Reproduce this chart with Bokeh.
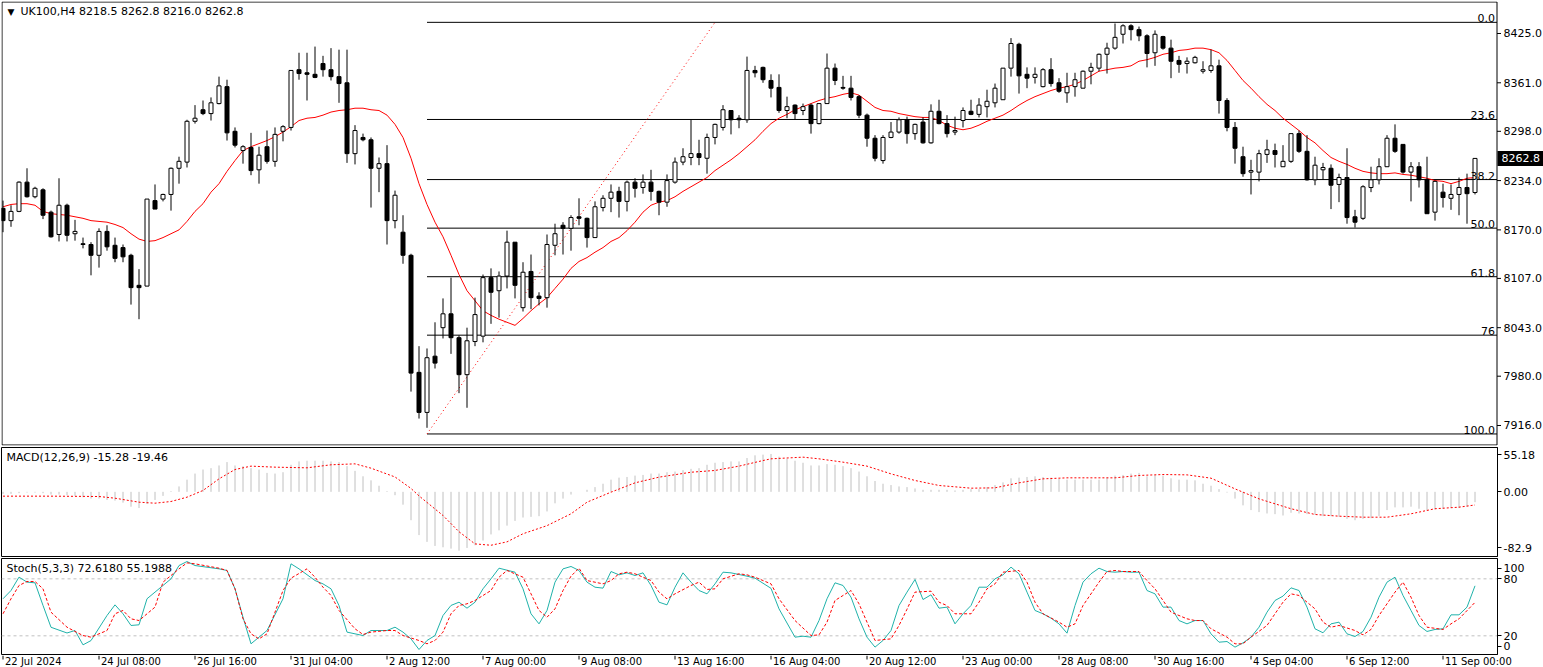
from bokeh.plotting import figure
from bokeh.layouts import column
from bokeh.models import Range1d, FixedTicker, Label
from bokeh.embed import file_html
from bokeh.resources import INLINE
from bokeh.core.properties import value

FONT = "DejaVu Sans"
FS = "11px"

# ---------------- data ----------------
opens = [
    8198, 8182, 8194, 8232, 8213, 8222, 8193, 8164, 8202, 8165,
    8152, 8151, 8137, 8168, 8150, 8147, 8137, 8098, 8097, 8208,
    8210, 8216, 8250, 8258, 8311, 8326, 8321, 8334, 8356, 8298,
    8273, 8277, 8248, 8278, 8259, 8298, 8303, 8378, 8374, 8372,
    8386, 8378, 8369, 8361, 8269, 8290, 8287, 8250, 8256, 8182,
    8167, 8137, 7985, 7933, 8006, 8043, 8061, 8030, 7982, 8025,
    8032, 8108, 8091, 8110, 8154, 8069, 8116, 8084, 8082, 8150,
    8176, 8172, 8187, 8185, 8160, 8199, 8211, 8220, 8207, 8232,
    8225, 8232, 8220, 8206, 8232, 8258, 8264, 8269, 8263, 8290,
    8303, 8325, 8315, 8313, 8377, 8381, 8364, 8355, 8325, 8332,
    8325, 8332, 8308, 8334, 8380, 8355, 8354, 8343, 8319, 8289,
    8260, 8290, 8297, 8313, 8295, 8310, 8283, 8324, 8308, 8297,
    8312, 8324, 8320, 8330, 8335, 8339, 8380, 8411, 8372, 8368,
    8356, 8378, 8361, 8348, 8356, 8354, 8376, 8380, 8398, 8406,
    8424, 8435, 8430, 8422, 8400, 8421, 8406, 8390, 8386, 8387,
    8376, 8377, 8383, 8338, 8303, 8265, 8245, 8245, 8268, 8273,
    8252, 8259, 8295, 8272, 8235, 8248, 8250, 8229, 8238, 8187,
    8185, 8225, 8235, 8252, 8289, 8281, 8245, 8252, 8235, 8193,
    8219, 8211, 8216, 8225, 8218.5]
highs = [
    8208, 8202, 8233, 8250, 8226, 8224, 8195, 8237, 8204, 8183,
    8160, 8154, 8172, 8176, 8160, 8151, 8139, 8119, 8210, 8229,
    8217, 8251, 8265, 8313, 8332, 8338, 8342, 8369, 8365, 8303,
    8280, 8296, 8278, 8299, 8303, 8306, 8377, 8400, 8400, 8408,
    8396, 8406, 8404, 8404, 8306, 8295, 8290, 8264, 8280, 8221,
    8189, 8139, 8019, 8016, 8050, 8081, 8108, 8033, 8043, 8082,
    8112, 8120, 8116, 8169, 8154, 8128, 8138, 8089, 8164, 8178,
    8180, 8189, 8211, 8186, 8207, 8215, 8229, 8226, 8234, 8237,
    8242, 8248, 8221, 8242, 8264, 8276, 8313, 8287, 8295, 8308,
    8332, 8325, 8319, 8395, 8383, 8382, 8372, 8372, 8343, 8333,
    8334, 8334, 8334, 8399, 8386, 8370, 8370, 8345, 8321, 8293,
    8293, 8310, 8316, 8317, 8308, 8316, 8333, 8339, 8319, 8317,
    8329, 8339, 8341, 8352, 8360, 8380, 8419, 8413, 8381, 8381,
    8380, 8393, 8367, 8374, 8374, 8377, 8387, 8399, 8413, 8438,
    8437, 8437, 8434, 8424, 8429, 8422, 8417, 8396, 8394, 8396,
    8389, 8404, 8391, 8341, 8310, 8278, 8261, 8274, 8287, 8282,
    8280, 8295, 8299, 8293, 8265, 8257, 8255, 8243, 8276, 8196,
    8228, 8252, 8263, 8293, 8307, 8281, 8258, 8258, 8265, 8234,
    8230, 8229, 8238, 8243, 8262.8]
lows = [
    8167, 8174, 8193, 8212, 8211, 8184, 8160, 8155, 8155, 8156,
    8146, 8111, 8121, 8143, 8128, 8128, 8073, 8054, 8097, 8197,
    8207, 8195, 8230, 8251, 8308, 8319, 8312, 8333, 8286, 8277,
    8256, 8241, 8230, 8256, 8252, 8285, 8299, 8365, 8338, 8367,
    8369, 8364, 8335, 8257, 8255, 8285, 8199, 8219, 8151, 8172,
    8126, 7960, 7925, 7913, 7990, 8029, 8009, 7958, 7939, 8019,
    8024, 8048, 8056, 8094, 8081, 8064, 8067, 8072, 8069, 8137,
    8138, 8143, 8176, 8147, 8160, 8194, 8193, 8186, 8194, 8212,
    8217, 8208, 8189, 8200, 8230, 8254, 8254, 8254, 8243, 8281,
    8299, 8294, 8302, 8309, 8368, 8361, 8342, 8322, 8315, 8313,
    8319, 8295, 8307, 8334, 8358, 8352, 8338, 8315, 8278, 8259,
    8256, 8289, 8295, 8282, 8287, 8282, 8282, 8307, 8290, 8293,
    8303, 8319, 8316, 8316, 8329, 8339, 8369, 8347, 8354, 8360,
    8355, 8356, 8348, 8335, 8343, 8354, 8359, 8376, 8373, 8404,
    8412, 8416, 8415, 8381, 8383, 8404, 8367, 8374, 8373, 8386,
    8373, 8374, 8321, 8298, 8256, 8239, 8216, 8233, 8257, 8251,
    8252, 8257, 8270, 8234, 8228, 8235, 8197, 8206, 8178, 8173,
    8183, 8219, 8229, 8252, 8270, 8243, 8207, 8225, 8191, 8182,
    8199, 8196, 8189, 8178, 8216.0]
closes = [
    8182, 8194, 8232, 8213, 8224, 8189, 8161, 8202, 8163, 8168,
    8151, 8137, 8168, 8148, 8133, 8135, 8095, 8095, 8210, 8197,
    8216, 8250, 8259, 8311, 8315, 8321, 8335, 8357, 8296, 8280,
    8278, 8247, 8267, 8259, 8294, 8304, 8377, 8373, 8372, 8368,
    8378, 8369, 8360, 8269, 8299, 8287, 8250, 8256, 8182, 8215,
    8137, 7984, 7933, 8004, 7997, 8061, 8030, 7982, 8026, 8060,
    8108, 8089, 8110, 8154, 8098, 8115, 8082, 8081, 8151, 8165,
    8172, 8186, 8185, 8160, 8200, 8211, 8219, 8207, 8232, 8224,
    8232, 8220, 8206, 8234, 8258, 8265, 8269, 8264, 8290, 8307,
    8326, 8313, 8313, 8377, 8374, 8365, 8354, 8325, 8330, 8321,
    8330, 8308, 8334, 8380, 8364, 8354, 8342, 8319, 8289, 8263,
    8290, 8297, 8313, 8295, 8307, 8283, 8324, 8308, 8295, 8299,
    8325, 8320, 8332, 8337, 8354, 8380, 8412, 8370, 8367, 8372,
    8378, 8360, 8350, 8356, 8365, 8376, 8381, 8398, 8406, 8420,
    8435, 8430, 8422, 8399, 8424, 8406, 8389, 8385, 8389, 8394,
    8378, 8383, 8338, 8303, 8276, 8243, 8247, 8269, 8274, 8268,
    8259, 8295, 8272, 8235, 8254, 8251, 8228, 8238, 8186, 8180,
    8226, 8235, 8252, 8289, 8272, 8245, 8252, 8235, 8191, 8233,
    8212, 8216, 8225, 8217, 8262.8]
ma_values = [
    8200, 8203, 8204, 8204, 8202, 8194, 8191, 8190, 8189, 8187,
    8185, 8182, 8181, 8180, 8177, 8173, 8165, 8158, 8155, 8156,
    8160, 8165, 8170, 8181, 8194, 8204, 8219, 8230, 8246, 8260,
    8273, 8278, 8282, 8286, 8291, 8297, 8304, 8312, 8315, 8316,
    8319, 8323, 8325, 8326, 8328, 8328, 8326, 8325, 8319, 8307,
    8290, 8263, 8230, 8203, 8180, 8161, 8137, 8112, 8091, 8078,
    8065, 8059, 8054, 8050, 8046, 8055, 8065, 8074, 8082, 8094,
    8106, 8120, 8129, 8134, 8141, 8147, 8155, 8160, 8169, 8180,
    8193, 8202, 8206, 8208, 8213, 8220, 8226, 8232, 8238, 8247,
    8254, 8261, 8269, 8278, 8287, 8298, 8308, 8315, 8320, 8326,
    8330, 8334, 8338, 8341, 8343, 8346, 8348, 8345, 8337, 8329,
    8325, 8324, 8321, 8319, 8317, 8316, 8316, 8312, 8306, 8302,
    8300, 8302, 8306, 8311, 8315, 8319, 8325, 8332, 8338, 8343,
    8347, 8351, 8354, 8356, 8359, 8364, 8370, 8376, 8378, 8380,
    8381, 8383, 8389, 8391, 8394, 8398, 8400, 8403, 8404, 8406,
    8406, 8404, 8400, 8390, 8377, 8364, 8354, 8343, 8333, 8325,
    8315, 8307, 8299, 8290, 8283, 8273, 8264, 8259, 8255, 8250,
    8246, 8244, 8243, 8243, 8244, 8242, 8241, 8239, 8237, 8234,
    8233, 8230, 8233, 8237, 8238]
macd_main = [
    -3, -3, -2, -1, -1, -2, -4, -4, -5, -6,
    -8, -10, -10, -12, -13, -16, -22, -24, -18, -12,
    -6, 1, 8, 18, 27, 33, 35, 39, 44, 39,
    38, 35, 33, 28, 27, 29, 40, 45, 46, 46,
    46, 45, 44, 38, 31, 23, 17, 9, 1, -5,
    -19, -42, -64, -74, -80, -82, -84, -87, -83, -79,
    -72, -63, -57, -50, -43, -38, -37, -36, -29, -17,
    -10, -4, 0, 3, 7, 12, 18, 21, 22, 24,
    25, 27, 27, 29, 30, 32, 34, 35, 40, 43,
    44, 45, 45, 50, 54, 55, 56, 52, 49, 46,
    43, 39, 39, 41, 40, 38, 35, 30, 23, 16,
    12, 10, 8, 7, 5, 3, 3, 3, 3, 2,
    3, 4, 4, 7, 10, 14, 20, 21, 22, 23,
    22, 21, 19, 18, 18, 18, 18, 18, 21, 24,
    25, 27, 28, 23, 25, 24, 20, 18, 18, 17,
    12, 9, 4, -1, -10, -20, -27, -30, -32, -33,
    -35, -31, -32, -33, -34, -36, -36, -37, -40, -42,
    -40, -39, -36, -27, -23, -23, -22, -25, -28, -26,
    -25, -24, -24, -22, -15.28]
signal_bars = [0, 6, 12, 14, 17, 19, 21, 23, 25, 27, 29, 31, 34, 38, 41, 44, 46, 49, 51, 52,
               55, 57, 59, 61, 63, 65, 68, 71, 73, 76, 79, 82, 86, 89, 92, 95, 96, 100, 102,
               105, 108, 111, 114, 117, 121, 124, 127, 130, 133, 136, 139, 142, 145, 148, 151,
               154, 157, 161, 164, 167, 170, 173, 176, 179, 182, 184]
signal_vals = [-6.4, -6.4, -6.9, -9.4, -15.3, -16.8, -14.3, -7.9, 2.0, 19.2, 33.0, 38.0, 36.5,
               35.5, 40.0, 41.4, 35.0, 22.0, 5.0, -6.0, -35.0, -59.0, -77.0, -79.0, -74.0, -62.0,
               -50.0, -32.5, -15.3, -0.5, 13.3, 21.7, 29.0, 31.6, 38.0, 46.3, 48.8, 51.3, 48.8,
               43.9, 38.0, 26.6, 16.8, 9.4, 5.4, 5.9, 13.3, 19.2, 20.7, 20.7, 20.7, 24.2, 25.6,
               25.1, 20.2, 4.4, -10.4, -25.0, -33.5, -36.0, -37.5, -37.5, -32.5, -25.0, -22.7,
               -19.46]
k_bars = [0, 1, 2, 3, 4, 5, 6, 8, 9, 10, 11, 13, 14, 15, 16, 17, 18, 20, 21, 22, 23, 24, 27, 28,
          29, 30, 31, 32, 33, 35, 36, 37, 39, 40, 41, 42, 43, 45, 46, 48, 49, 50, 51, 52, 53, 54,
          55, 56, 57, 58, 59, 60, 61, 62, 64, 65, 66, 67, 68, 69, 70, 71, 72, 73, 74, 75, 76, 77,
          78, 79, 80, 81, 82, 83, 84, 85, 86, 87, 88, 89, 90, 91, 93, 94, 96, 97, 99, 100, 101,
          102, 103, 104, 105, 106, 107, 108, 109, 110, 111, 112, 113, 114, 115, 116, 117, 118,
          119, 120, 121, 122, 123, 124, 125, 126, 127, 128, 129, 130, 131, 132, 133, 134, 135,
          136, 137, 138, 139, 140, 141, 142, 143, 144, 145, 146, 147, 148, 149, 150, 151, 152,
          153, 154, 155, 156, 157, 158, 159, 160, 161, 162, 163, 164, 165, 166, 167, 168, 169,
          170, 171, 172, 173, 174, 175, 176, 177, 178, 179, 180, 181, 182, 183, 184]
k_vals = [59.0, 67.7, 81.8, 76.5, 75.8, 52.0, 29.0, 23.0, 25.6, 10.5, 15.0, 41.4, 52.6, 43.2,
          30.9, 31.6, 59.0, 73.0, 80.0, 94.0, 98.2, 94.0, 90.5, 88.8, 69.5, 39.6, 11.6, 18.6,
          25.6, 59.0, 95.8, 90.5, 78.2, 74.7, 69.5, 51.9, 23.9, 20.3, 25.6, 25.6, 29.1, 23.9,
          16.8, 5.6, 15.1, 20.3, 41.4, 52.0, 55.4, 49.1, 55.4, 69.5, 80.0, 91.2, 87.0, 69.5,
          43.2, 32.6, 46.7, 76.5, 90.5, 93.0, 88.8, 76.5, 71.2, 70.2, 87.7, 84.2, 86.3, 83.5,
          86.3, 73.0, 55.4, 52.6, 71.2, 86.3, 76.5, 67.7, 64.2, 74.7, 87.0, 86.3, 82.8, 80.7,
          70.0, 48.4, 18.6, 19.6, 18.6, 36.1, 59.0, 75.8, 73.0, 60.7, 37.9, 18.6, 8.1, 15.1,
          25.6, 51.9, 66.0, 79.3, 58.2, 63.2, 49.1, 50.2, 32.6, 43.2, 51.9, 71.2, 71.2, 80.0,
          84.2, 92.3, 85.3, 66.0, 46.7, 43.2, 38.6, 32.6, 22.8, 51.9, 76.5, 85.3, 91.2, 87.7,
          87.0, 87.7, 87.0, 87.0, 67.7, 64.2, 50.2, 50.2, 36.1, 32.6, 36.1, 36.1, 22.1, 13.3,
          14.0, 8.1, 12.6, 18.6, 29.1, 44.9, 57.2, 61.8, 70.5, 67.7, 50.2, 27.4, 23.2, 32.6,
          34.4, 22.1, 19.3, 24.6, 39.6, 60.7, 76.5, 81.7, 62.5, 46.7, 30.9, 24.6, 26.7, 27.4,
          42.1, 42.1, 50.2, 72.618]
d_bars = [0, 1, 2, 3, 4, 5, 6, 8, 9, 10, 11, 13, 14, 15, 16, 17, 19, 20, 22, 23, 24, 27, 28, 29,
          30, 31, 32, 33, 34, 35, 36, 38, 39, 40, 41, 42, 44, 45, 46, 48, 49, 50, 52, 53, 54, 55,
          56, 57, 58, 59, 61, 62, 63, 65, 66, 67, 68, 69, 70, 71, 72, 73, 75, 76, 77, 78, 79, 81,
          82, 83, 84, 86, 87, 88, 89, 90, 92, 93, 94, 95, 96, 97, 99, 101, 102, 103, 104, 106,
          107, 108, 109, 111, 112, 113, 114, 116, 117, 118, 119, 121, 122, 123, 124, 125, 127,
          128, 129, 130, 132, 133, 134, 135, 137, 138, 139, 140, 142, 143, 144, 145, 146, 148,
          149, 150, 151, 153, 154, 155, 156, 158, 159, 160, 161, 162, 164, 165, 166, 167, 169,
          170, 171, 172, 174, 175, 176, 177, 178, 180, 181, 182, 184]
d_vals = [43.2, 59.0, 73.0, 77.2, 77.2, 69.5, 44.9, 29.1, 24.6, 20.3, 18.6, 25.6, 43.2, 46.7,
          37.9, 36.1, 50.2, 76.5, 90.5, 96.8, 95.8, 91.2, 88.8, 69.5, 37.9, 22.1, 16.8, 22.1,
          44.9, 67.7, 80.7, 90.5, 81.7, 71.2, 62.5, 46.7, 27.4, 21.4, 23.9, 25.6, 25.6, 20.3,
          15.1, 11.6, 15.1, 23.9, 43.2, 52.0, 53.7, 57.2, 67.7, 81.7, 88.8, 81.7, 64.2, 46.7,
          39.6, 48.4, 67.7, 82.8, 91.2, 78.2, 74.7, 78.2, 85.3, 87.0, 85.3, 78.2, 66.0, 58.9,
          64.2, 73.0, 76.5, 68.8, 69.5, 80.0, 85.3, 84.2, 81.7, 78.2, 74.7, 59.0, 36.1, 20.3,
          21.0, 34.4, 57.2, 67.7, 53.7, 34.4, 15.1, 16.8, 30.9, 48.0, 66.0, 67.0, 55.4, 51.9,
          43.2, 43.2, 55.4, 69.5, 74.7, 87.0, 88.8, 76.5, 55.4, 43.2, 34.4, 29.1, 32.6, 51.9,
          76.5, 87.7, 88.8, 87.7, 87.7, 78.2, 69.5, 57.2, 44.9, 37.9, 36.1, 36.1, 27.4, 18.6,
          11.6, 11.6, 18.6, 30.9, 43.2, 55.4, 64.2, 62.5, 48.4, 34.4, 29.1, 30.9, 25.6, 21.0,
          26.7, 41.4, 66.0, 76.5, 60.7, 41.4, 29.1, 26.7, 32.6, 37.9, 55.1988]
date_bars = [0, 12, 24, 36, 48, 60, 72, 84, 96, 108, 120, 132, 144, 156, 168, 180]
date_labels = ["22 Jul 2024", "24 Jul 08:00", "26 Jul 16:00", "31 Jul 04:00", "2 Aug 12:00",
               "7 Aug 00:00", "9 Aug 08:00", "13 Aug 16:00", "16 Aug 04:00", "20 Aug 12:00",
               "23 Aug 00:00", "28 Aug 08:00", "30 Aug 16:00", "4 Sep 04:00", "6 Sep 12:00",
               "11 Sep 00:00"]
price_ticks = [8425.0, 8361.0, 8298.0, 8234.0, 8170.0, 8107.0, 8043.0, 7980.0, 7916.0]
fib_high = 8439.5
fib_low = 7905.0
fib_start_bar = 53
fib_trend_end_bar = 89
fib_levels = [0.0, 23.6, 38.2, 50.0, 61.8, 76.0, 100.0]
fib_texts = ["0.0", "23.6", "38.2", "50.0", "61.8", "76", "100.0"]
last_price = 8262.8
macd_ticks = [55.18, 0.0, -82.9]
macd_tick_text = ["55.18", "0.00", "-82.9"]
stoch_levels = [80, 20]
stoch_ticks = [91.2, 80.0, 20.0, 9.1]
stoch_tick_text = ["100", "80", "20", "0"]

# ---------------- layout constants ----------------
n = len(closes)
bars = list(range(n))
PX = 8.0                 # pixels per bar
FRAME_W = 1496           # plotting area width of every panel
SCALE_W = 46             # width of the price scale column
X0 = -1.5 / PX           # bar 0 centred on a half pixel
xr = Range1d(X0, X0 + FRAME_W / PX)
X_EDGE = X0 + FRAME_W / PX


def style_axis(f):
    f.xgrid.visible = False
    f.ygrid.visible = False
    ax = f.yaxis[0]
    ax.axis_line_color = "black"
    ax.major_tick_out = 4
    ax.major_tick_in = 0
    ax.minor_tick_out = 0
    ax.minor_tick_in = 0
    ax.major_label_text_font = FONT
    ax.major_label_text_font_size = FS
    ax.major_label_text_color = "black"
    ax.major_label_standoff = 2


# ---------------- main price panel (price scale drawn inside the canvas) ----------------
PPU = 1.2985             # price per pixel
MAIN_H = 444
P_TOP = 8466.55
P_BOT = P_TOP - MAIN_H * PPU
main_xr = Range1d(X0, X0 + (FRAME_W + SCALE_W) / PX)
p = figure(frame_width=FRAME_W + SCALE_W, frame_height=MAIN_H, x_range=main_xr,
           y_range=Range1d(P_BOT, P_TOP), output_backend="svg", toolbar_location=None,
           min_border_left=1, min_border_right=0, min_border_top=1, min_border_bottom=1,
           x_axis_location=None, y_axis_location=None, outline_line_color=None,
           background_fill_color="white", border_fill_color="white")
p.xgrid.visible = False
p.ygrid.visible = False

# panel frame
xl = X0 + 0.5 / PX
xrt = X0 + (FRAME_W - 0.5) / PX
yt = P_TOP - 0.5 * PPU
yb = P_TOP - (MAIN_H - 0.5) * PPU
p.line(x=[xl, xrt, xrt, xl, xl], y=[yt, yt, yb, yb, yt], line_color="black", line_width=1)

# price scale
p.segment(x0=[xrt] * len(price_ticks), y0=price_ticks,
          x1=[xrt + 4 / PX] * len(price_ticks), y1=price_ticks, line_color="black")
p.text(x=[X_EDGE + 6 / PX] * len(price_ticks), y=price_ticks,
       text=["%.1f" % v for v in price_ticks], text_font=value(FONT), text_font_size=FS,
       text_align="left", text_baseline="middle", text_color="black")
# current price marker
p.quad(left=[X_EDGE], right=[X_EDGE + SCALE_W / PX],
       top=[last_price + 7.5 * PPU], bottom=[last_price - 7.5 * PPU],
       fill_color="black", line_color=None)
p.text(x=[X_EDGE + 4 / PX], y=[last_price], text=["%.1f" % last_price],
       text_font=value(FONT), text_font_size=FS, text_align="left",
       text_baseline="middle", text_color="white")

# fibonacci levels
rng = fib_high - fib_low
fib_prices = [fib_high - lv / 100.0 * rng for lv in fib_levels]
p.segment(x0=[fib_start_bar] * len(fib_prices), y0=fib_prices,
          x1=[xrt] * len(fib_prices), y1=fib_prices, line_color="black", line_width=1)
p.line(x=[fib_start_bar, fib_trend_end_bar], y=[fib_low, fib_high],
       line_color="red", line_dash="1 3", line_width=1)

# moving average
p.line(x=bars, y=ma_values, line_color="red", line_width=1)

# candles
body_top = [max(o, c) for o, c in zip(opens, closes)]
body_bot = [min(o, c) for o, c in zip(opens, closes)]
fills = ["white" if c >= o else "black" for o, c in zip(opens, closes)]
p.segment(x0=bars, y0=lows, x1=bars, y1=highs, line_color="black", line_width=1)
p.vbar(x=bars, width=0.5, top=body_top, bottom=body_bot, fill_color=fills,
       line_color="black", line_width=1)

# fibonacci level texts (on top of the candles)
p.text(x=[X_EDGE - 2.5 / PX] * len(fib_prices), y=fib_prices, text=fib_texts,
       text_font=value(FONT), text_font_size=FS, text_align="right",
       text_baseline="bottom", text_color="black")

# header texts
p.add_layout(Label(x=X0 + 6 / PX, y=P_TOP - 5 * PPU, text="\u25bc", text_font=FONT,
                   text_font_size="9px", text_baseline="top", text_color="black"))
p.add_layout(Label(x=X0 + 19 / PX, y=P_TOP - 3 * PPU,
                   text="UK100,H4  %.1f %.1f %.1f %.1f" % (opens[-1], highs[-1], lows[-1], closes[-1]),
                   text_font=FONT, text_font_size=FS, text_baseline="top", text_color="black"))

# ---------------- MACD panel ----------------
MACD_H = 109
m_top = (1474 - 3 * 447) * 0.493
m_bot = m_top - MACD_H * 3 * 0.493
m = figure(frame_width=FRAME_W, frame_height=MACD_H, x_range=xr, y_range=Range1d(m_bot, m_top),
           output_backend="svg", toolbar_location=None,
           min_border_left=1, min_border_right=SCALE_W, min_border_top=1, min_border_bottom=1,
           x_axis_location=None, y_axis_location="right",
           outline_line_color="black", outline_line_width=1,
           background_fill_color="white", border_fill_color="white")
style_axis(m)
m.yaxis[0].ticker = FixedTicker(ticks=macd_ticks)
m.yaxis[0].major_label_overrides = {t: s for t, s in zip(macd_ticks, macd_tick_text)}
m.segment(x0=bars, y0=[0] * n, x1=bars, y1=macd_main, line_color="#c0c0c0", line_width=1)
m.line(x=signal_bars, y=signal_vals, line_color="red", line_dash="2 2", line_width=1)
m.add_layout(Label(x=X0 + 5 / PX, y=m_top - 3 * 1.479,
                   text="MACD(12,26,9) %.2f %.2f" % (macd_main[-1], signal_vals[-1]),
                   text_font=FONT, text_font_size=FS, text_baseline="top", text_color="black"))

# ---------------- Stochastic panel ----------------
ST_H = 96
SPU = 1.0527
s_top = 104.56 - SPU * (558 - 555)
s_bot = s_top - ST_H * SPU
s = figure(frame_width=FRAME_W, frame_height=ST_H, x_range=xr, y_range=Range1d(s_bot, s_top),
           output_backend="svg", toolbar_location=None,
           min_border_left=1, min_border_right=SCALE_W, min_border_top=1, min_border_bottom=1,
           x_axis_location=None, y_axis_location="right",
           outline_line_color="black", outline_line_width=1,
           background_fill_color="white", border_fill_color="white")
style_axis(s)
s.yaxis[0].ticker = FixedTicker(ticks=stoch_ticks)
s.yaxis[0].major_label_overrides = {t: txt for t, txt in zip(stoch_ticks, stoch_tick_text)}
for lv in stoch_levels:
    s.line(x=[xr.start, xr.end], y=[lv, lv], line_color="#c0c0c0", line_dash="3 3", line_width=1)
s.line(x=k_bars, y=k_vals, line_color="#20b2aa", line_width=1)
s.line(x=d_bars, y=d_vals, line_color="red", line_dash="3 2", line_width=1)
s.add_layout(Label(x=X0 + 5 / PX, y=s_top - 3 * SPU,
                   text="Stoch(5,3,3) %.4f %.4f" % (k_vals[-1], d_vals[-1]),
                   text_font=FONT, text_font_size=FS, text_baseline="top", text_color="black"))

# ---------------- time scale strip (spans the scale column too) ----------------
STRIP_H = 12
strip_xr = Range1d(X0, X0 + (FRAME_W + SCALE_W) / PX)
t = figure(frame_width=FRAME_W + SCALE_W, frame_height=STRIP_H, x_range=strip_xr,
           y_range=Range1d(0, STRIP_H), output_backend="svg", toolbar_location=None,
           min_border_left=1, min_border_right=0, min_border_top=0, min_border_bottom=0,
           x_axis_location=None, y_axis_location=None, outline_line_color=None,
           background_fill_color="white", border_fill_color="white")
t.xgrid.visible = False
t.ygrid.visible = False
t.segment(x0=date_bars, y0=[STRIP_H] * len(date_bars), x1=date_bars,
          y1=[STRIP_H - 4] * len(date_bars), line_color="black", line_width=1)
t.text(x=[b + 2 / PX for b in date_bars], y=[STRIP_H] * len(date_bars), text=date_labels,
       text_font=value(FONT), text_font_size="10px", text_align="left", text_baseline="top",
       text_color="black")

layout = column(p, m, s, t, spacing=0)
open("out.html", "w").write(file_html(layout, INLINE))
